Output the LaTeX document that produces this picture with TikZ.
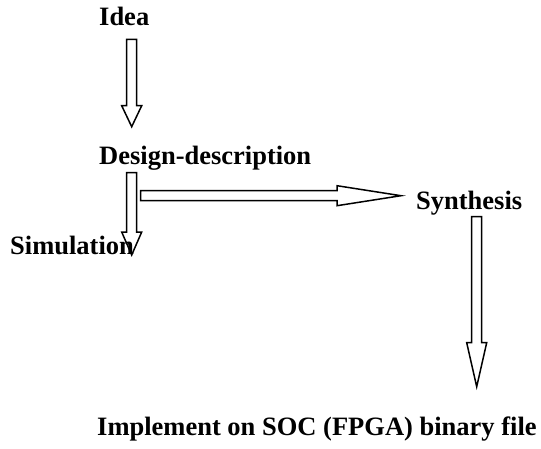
\documentclass[tikz,border=0pt]{standalone}
\usepackage{fontspec}
\setmainfont{Liberation Serif}
\usetikzlibrary{calc}
\tikzset{
  lbl/.style={anchor=base west, inner sep=0pt, font=\fontsize{26.5}{30}\selectfont\bfseries},
  blockarrow/.style={draw=black, line width=1.5pt, line join=miter,
    to path={
      ($(\tikztostart)!5pt!90:(\tikztotarget)$)
      -- ($($(\tikztotarget)!#1!(\tikztostart)$)!5pt!-90:(\tikztostart)$)
      -- ($($(\tikztotarget)!#1!(\tikztostart)$)!10pt!-90:(\tikztostart)$)
      -- (\tikztotarget)
      -- ($($(\tikztotarget)!#1!(\tikztostart)$)!10pt!90:(\tikztostart)$)
      -- ($($(\tikztotarget)!#1!(\tikztostart)$)!5pt!90:(\tikztostart)$)
      -- ($(\tikztostart)!5pt!-90:(\tikztotarget)$)
      -- cycle}},
}
\begin{document}
\begin{tikzpicture}[x=1pt,y=-1pt]
\useasboundingbox (0,0) rectangle (541,448);
% labels
\node[lbl] (idea)   at (99,25)   {Idea};
\node[lbl] (design) at (99,164)  {Design-description};
\node[lbl] (synth)  at (416,209) {Synthesis};
\node[lbl] (sim)    at (10,254)  {Simulation};
\node[lbl] (impl)   at (97,435)  {Implement on SOC (FPGA) binary file};
% arrow end points
\coordinate (a1s) at (131.7,39.3);
\coordinate (a1e) at (131.7,126.7);
\coordinate (a2s) at (131.7,172.7);
\coordinate (a2e) at (131.7,255);
\coordinate (a3s) at (140.7,195.7);
\coordinate (a3e) at (401,195.7);
\coordinate (a4s) at (476.7,216.7);
\coordinate (a4e) at (476.7,386.7);
% block arrows
\draw[blockarrow=21pt] (a1s) to (a1e);
\draw[blockarrow=23pt] (a2s) to (a2e);
\draw[blockarrow=64pt] (a3s) to (a3e);
\draw[blockarrow=44pt] (a4s) to (a4e);
\end{tikzpicture}
\end{document}
